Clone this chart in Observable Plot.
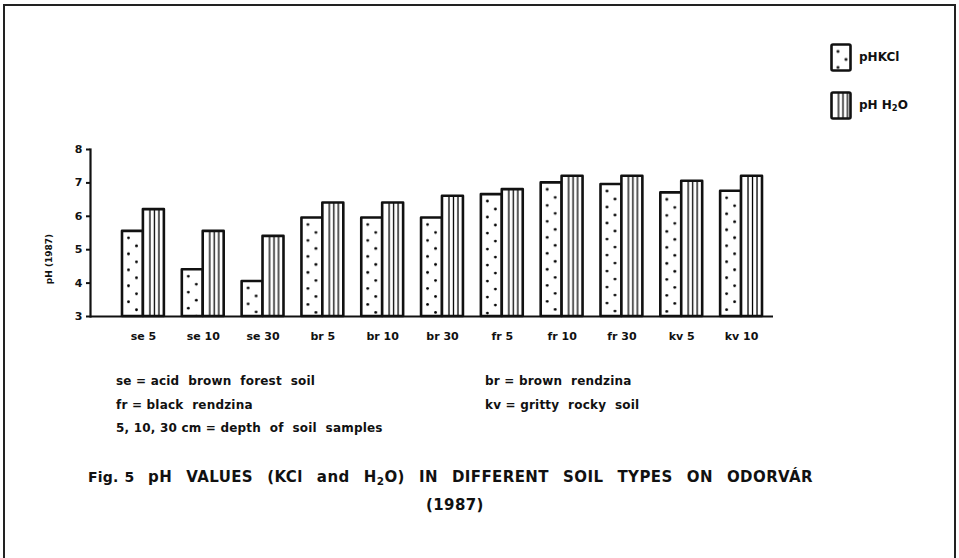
<!DOCTYPE html>
<html>
<head>
<meta charset="utf-8">
<script src="https://cdn.jsdelivr.net/npm/d3@7"></script>
<script src="https://cdn.jsdelivr.net/npm/@observablehq/plot@0.6"></script>
<style>
  html, body { margin: 0; padding: 0; background: #fff; }
  #wrap { position: relative; width: 959px; height: 558px; overflow: hidden; font-family: "DejaVu Sans", sans-serif; font-weight: bold; color: #111; }
  #border { position: absolute; left: 3px; top: 4px; width: 949px; height: 600px; border-left: 2px solid #222; border-top: 2px solid #222; border-right: 2px solid #222; }
  #chart { position: absolute; left: 0; top: 0; }
  .abs { position: absolute; white-space: pre; }
  .note { font-size: 12px; letter-spacing: 0.2px; }
  .legtxt { font-size: 12px; }
  .cap { font-size: 15px; word-spacing: 8.5px; letter-spacing: 0.4px; }
  .fig { font-size: 14px; word-spacing: 1px; letter-spacing: 0.2px; }
  sub { font-size: 0.7em; vertical-align: -0.25em; line-height: 0; }
</style>
</head>
<body>
<svg width="0" height="0" style="position:absolute">
  <defs>
    <pattern id="dots" patternUnits="objectBoundingBox" width="1" height="1">
      <rect x="0" y="0" width="60" height="400" fill="white"></rect>
      <g id="dotsg" fill="black"></g>
    </pattern>
    <pattern id="lines" patternUnits="objectBoundingBox" width="1" height="1">
      <rect x="0" y="0" width="60" height="400" fill="white"></rect>
      <g stroke="black" stroke-width="1.3">
        <line x1="7" y1="0" x2="7" y2="400"></line>
        <line x1="11.5" y1="0" x2="11.5" y2="400"></line>
        <line x1="16" y1="0" x2="16" y2="400"></line>
      </g>
    </pattern>
  </defs>
</svg>
<div id="wrap">
  <div id="border"></div>
  <div id="chart"></div>
</div>
<script>
// ---- data ----
const samples = ["se 5", "se 10", "se 30", "br 5", "br 10", "br 30", "fr 5", "fr 10", "fr 30", "kv 5", "kv 10"];
const phKCl   = [5.55, 4.4, 4.05, 5.95, 5.95, 5.95, 6.65, 7.0, 6.95, 6.7, 6.75];
const phH2O   = [6.2, 5.55, 5.4, 6.4, 6.4, 6.6, 6.8, 7.2, 7.2, 7.05, 7.2];
const yTicks  = [3, 4, 5, 6, 7, 8];
const notesLeft  = ["se = acid  brown  forest  soil", "fr = black  rendzina", "5, 10, 30 cm = depth  of  soil  samples"];
const notesRight = ["br = brown  rendzina", "kv = gritty  rocky  soil"];

// dot pattern content (decoration)
const g = document.getElementById("dotsg");
for (let k = 0; k < 26; k++) {
  const cx = (k % 2 === 0) ? 6.5 : 14.5;
  const cy = 7 + k * 8;
  const c = document.createElementNS("http://www.w3.org/2000/svg", "circle");
  c.setAttribute("cx", cx); c.setAttribute("cy", cy); c.setAttribute("r", 1.4);
  g.appendChild(c);
}

const rows = samples.map((s, i) => ({sample: s, kcl: phKCl[i], h2o: phH2O[i]}));
const half = 20.9;

const plot = Plot.plot({
  width: 959,
  height: 345,
  marginLeft: 90,
  marginRight: 186,
  marginTop: 149,
  marginBottom: 29,
  style: {fontFamily: "DejaVu Sans, sans-serif", fontWeight: "bold", fontSize: "11px", color: "#111", background: "transparent"},
  x: {domain: samples, range: [122, 762], paddingInner: 0.3, paddingOuter: 0, round: false, axis: null},
  y: {domain: [3, 8], ticks: yTicks, axis: null},
  marks: [
    Plot.barY(rows, {x: "sample", y1: 3, y2: "kcl", fill: "url(#dots)", stroke: "#111", strokeWidth: 2.6, strokeLinejoin: "round", insetRight: half}),
    Plot.barY(rows, {x: "sample", y1: 3, y2: "h2o", fill: "url(#lines)", stroke: "#111", strokeWidth: 2.6, strokeLinejoin: "round", insetLeft: half}),
    Plot.ruleY([3], {stroke: "#111", strokeWidth: 2}),
    Plot.frame({anchor: "left", stroke: "#111", strokeWidth: 2.2}),
    Plot.axisY({ticks: yTicks, tickFormat: d => String(d), tickSize: 4, tickPadding: 4, strokeWidth: 2, label: null, fontSize: 11, fontWeight: "bold"}),
    Plot.axisX({tickSize: 0, tickPadding: 16, label: null, fontSize: 11, fontWeight: "bold"}),
    Plot.text(["pH (1987)"], {frameAnchor: "left", rotate: -90, dx: -41, dy: 26, textAnchor: "middle", fontSize: 9, fontWeight: "bold", fill: "#111"})
  ]
});
document.getElementById("chart").appendChild(plot);

const wrap = document.getElementById("wrap");
function addText(html, cls, left, top) {
  const d = document.createElement("div");
  d.className = "abs " + cls;
  d.style.left = left + "px";
  d.style.top = top + "px";
  d.innerHTML = html;
  wrap.appendChild(d);
  return d;
}
notesLeft.forEach((t, i) => addText(t, "note", 116, 374 + i * 23.5));
notesRight.forEach((t, i) => addText(t, "note", 485, 374 + i * 23.5));

// legend
function legendBox(fill, left, top) {
  const s = document.createElementNS("http://www.w3.org/2000/svg", "svg");
  s.setAttribute("width", 24); s.setAttribute("height", 32);
  s.style.position = "absolute"; s.style.left = left + "px"; s.style.top = top + "px";
  const r = document.createElementNS("http://www.w3.org/2000/svg", "rect");
  r.setAttribute("x", 1.5); r.setAttribute("y", 1.5); r.setAttribute("width", 19); r.setAttribute("height", 26);
  r.setAttribute("rx", 1.5);
  r.setAttribute("fill", fill); r.setAttribute("stroke", "#111"); r.setAttribute("stroke-width", 2.6);
  s.appendChild(r);
  wrap.appendChild(s);
}
legendBox("url(#dots)", 830, 43);
legendBox("url(#lines)", 830, 91);
addText("pHKCl", "legtxt", 859, 50);
addText("pH H<sub>2</sub>O", "legtxt", 859, 98);

addText("Fig. 5", "fig", 88, 469);
addText("pH VALUES (KCl and H<sub>2</sub>O) IN DIFFERENT SOIL TYPES ON ODORVÁR", "cap", 148, 468);
addText("(1987)", "cap", 426, 496);
</script>
</body>
</html>
